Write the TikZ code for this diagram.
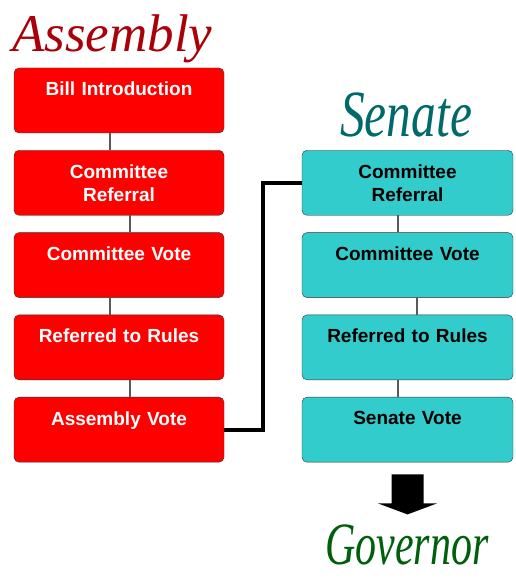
\documentclass[tikz,border=0pt]{standalone}
\usepackage{fontspec}
\setmainfont{Liberation Serif}
\newfontfamily\boxfont{Liberation Sans}
\usepackage{graphicx}
\definecolor{asmred}{RGB}{255,0,0}
\definecolor{sencyan}{RGB}{51,204,204}
\definecolor{asmtitle}{RGB}{170,0,10}
\definecolor{sentitle}{RGB}{0,105,105}
\definecolor{govtitle}{RGB}{0,95,10}
\tikzstyle{asmbox} = [rectangle, rounded corners=5pt, minimum width=210pt, minimum height=65pt, text width=200pt, align=center, draw=black!80, fill=asmred, text=white, font=\boxfont\bfseries\fontsize{19}{23}\selectfont]
\tikzstyle{senbox} = [asmbox, minimum width=211pt, fill=sencyan, text=black]
\tikzstyle{link} = [draw=black!65, line width=1.2pt]
\tikzstyle{bridge} = [draw=black, line width=4pt]
\tikzstyle{heading} = [inner sep=0pt, font=\itshape\fontsize{53}{53}\selectfont]

\begin{document}
\begin{tikzpicture}[node distance=82.3pt]
\useasboundingbox (0,0) rectangle (516pt,579pt);
\node (billintro) [asmbox] at (119pt,478.5pt) {Bill Introduction\\\mbox{}};
\node (cref) [asmbox, below of=billintro] {Committee\\Referral};
\node (cvote) [asmbox, below of=cref] {Committee Vote\\\mbox{}};
\node (rules) [asmbox, below of=cvote] {Referred to Rules\\\mbox{}};
\node (asmvote) [asmbox, below of=rules] {Assembly Vote\\\mbox{}};

\node (sref) [senbox, right of=cref, xshift=206.2pt] {Committee\\Referral};
\node (svote) [senbox, below of=sref] {Committee Vote\\\mbox{}};
\node (srules) [senbox, below of=svote] {Referred to Rules\\\mbox{}};
\node (senvote) [senbox, below of=srules] {Senate Vote\\\mbox{}};

% titles
\node (asmhead) [heading, anchor=base west, text=asmtitle] at (12pt,527pt) {Assembly};
\node (senhead) [heading, anchor=base, text=sentitle] at (406pt,442pt) {\scalebox{0.75}[1]{\fontsize{66}{66}\selectfont Senate}};
\node (govhead) [heading, anchor=base, text=govtitle] at (407pt,14pt) {\scalebox{0.7}[1]{\fontsize{60}{60}\selectfont Governor}};

\draw [link] ([xshift=-9pt]billintro.south) -- ([xshift=-9pt]cref.north);
\draw [link] ([xshift=11pt]cref.south) -- ([xshift=11pt]cvote.north);
\draw [link] ([xshift=-9pt]cvote.south) -- ([xshift=-9pt]rules.north);
\draw [link] ([xshift=11pt]rules.south) -- ([xshift=11pt]asmvote.north);
\draw [link] ([xshift=-9.5pt]sref.south) -- ([xshift=-9.5pt]svote.north);
\draw [link] ([xshift=9.5pt]svote.south) -- ([xshift=9.5pt]srules.north);
\draw [link] ([xshift=-9.5pt]srules.south) -- ([xshift=-9.5pt]senvote.north);
\draw [bridge] (asmvote.east) -- ++(39pt,0) |- (sref.west);

% block arrow down to the governor
\fill (senvote.south) ++(-16pt,-12pt) -- ++(32pt,0) -- ++(0,-29pt) -- ++(13.5pt,0) -- ++(-29.5pt,-11pt) -- ++(-29.5pt,11pt) -- ++(13.5pt,0) -- cycle;
\end{tikzpicture}
\end{document}
